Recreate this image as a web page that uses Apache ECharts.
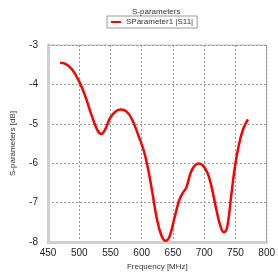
<!DOCTYPE html>
<html>
<head>
<meta charset="utf-8">
<script src="https://cdn.jsdelivr.net/npm/echarts@6/dist/echarts.min.js"></script>
<style>
  html, body { margin: 0; padding: 0; background: #fff; }
  #chart { width: 278px; height: 277px; }
</style>
</head>
<body>
<div id="chart"></div>
<script>
// frequency [MHz] and |S11| [dB]
var freq = [469.4, 478, 488.6, 500, 509, 519.7, 529, 535.3, 541.5, 549.8, 558.7, 566.5, 575.8, 584.6, 595,
  603.8, 610.6, 617.3, 623.6, 631.4, 638.1, 644.3, 652.1, 660, 665, 671.3, 678, 683.3, 690, 697.3,
  705.6, 711.8, 719.6, 726.4, 731.6, 736.8, 743, 749.2, 756, 762.7, 770];
var s11 = [-3.45, -3.48, -3.62, -3.93, -4.27, -4.78, -5.16, -5.26, -5.14, -4.84, -4.68, -4.64, -4.69, -4.89, -5.31,
  -5.71, -6.18, -6.77, -7.36, -7.83, -7.97, -7.87, -7.41, -6.94, -6.77, -6.62, -6.26, -6.09, -6.01, -6.05,
  -6.26, -6.6, -7.19, -7.62, -7.75, -7.62, -6.86, -6.09, -5.5, -5.12, -4.89];
var xTicks = [450, 500, 550, 600, 650, 700, 750, 800];
var yTicks = [-8, -7, -6, -5, -4, -3];

var chart = echarts.init(document.getElementById('chart'));
var pts = [];
for (var i = 0; i < freq.length; i++) {
  pts.push([freq[i], s11[i]]);
}
var font = 'Liberation Sans, Arial, sans-serif';

chart.setOption({
  animation: false,
  title: {
    text: 'S-parameters',
    left: 127,
    top: 3,
    textStyle: { fontSize: 8, fontWeight: 'normal', color: '#333', fontFamily: font }
  },
  legend: {
    data: ['SParameter1 |S11|'],
    top: 16,
    left: 107,
    itemWidth: 10,
    itemHeight: 2,
    itemGap: 4,
    padding: [2, 4],
    borderColor: '#999',
    borderWidth: 1,
    borderRadius: 0,
    icon: 'rect',
    textStyle: { fontSize: 8, color: '#333', fontFamily: font }
  },
  grid: { left: 48, right: 5, top: 45, bottom: 35 },
  xAxis: {
    type: 'value',
    min: xTicks[0],
    max: xTicks[xTicks.length - 1],
    interval: 50,
    name: 'Frequency [MHz]',
    nameLocation: 'middle',
    nameGap: 18,
    nameTextStyle: { fontSize: 8, color: '#333', fontFamily: font },
    axisLine: { show: true, lineStyle: { color: '#d0d0d0', width: 3 } },
    axisTick: { show: false },
    axisLabel: { fontSize: 10, color: '#222', margin: 6, fontFamily: font },
    splitLine: { show: true, lineStyle: { color: '#999', type: [2, 2], width: 1 } }
  },
  yAxis: {
    type: 'value',
    min: yTicks[0],
    max: yTicks[yTicks.length - 1],
    interval: 1,
    name: 'S-parameters [dB]',
    nameLocation: 'middle',
    nameGap: 31,
    nameTextStyle: { fontSize: 8, color: '#333', fontFamily: font },
    axisLine: { show: true, lineStyle: { color: '#d0d0d0', width: 3 } },
    axisTick: { show: false },
    axisLabel: { fontSize: 10, color: '#222', margin: 10, fontFamily: font },
    splitLine: { show: true, lineStyle: { color: '#999', type: [2, 2], width: 1 } }
  },
  series: [
    {
      name: 'SParameter1 |S11|',
      type: 'line',
      data: pts,
      smooth: 0.4,
      showSymbol: false,
      symbol: 'none',
      lineStyle: { color: '#ff0000', width: 2.5 },
      itemStyle: { color: '#ff0000' }
    },
    {
      // thin frame on top and right
      type: 'line',
      data: [[450, -3], [800, -3], [800, -8]],
      showSymbol: false,
      symbol: 'none',
      silent: true,
      lineStyle: { color: '#999', width: 1 },
      z: 1
    }
  ]
});
</script>
</body>
</html>
